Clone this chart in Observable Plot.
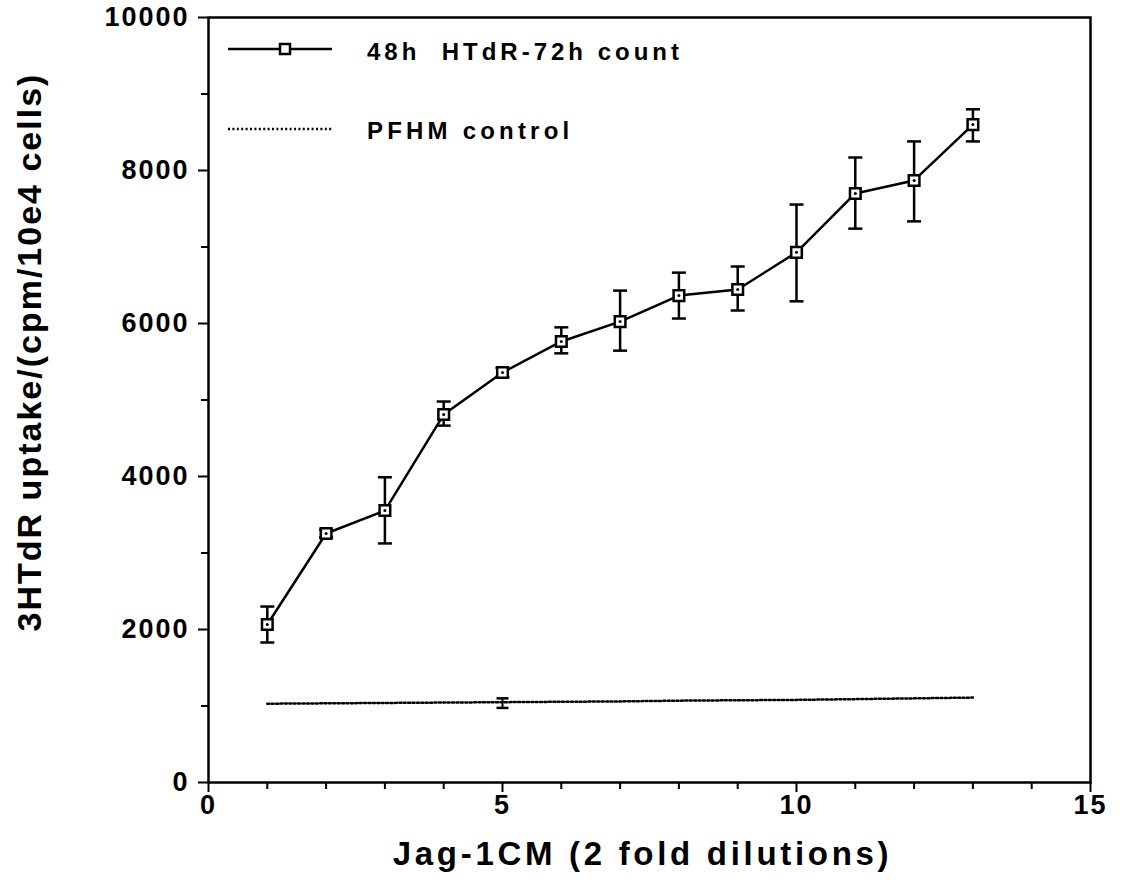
<!DOCTYPE html>
<html>
<head>
<meta charset="utf-8">
<script src="https://cdn.jsdelivr.net/npm/d3@7"></script>
<script src="https://cdn.jsdelivr.net/npm/@observablehq/plot@0.6"></script>
<style>
  html, body { margin: 0; padding: 0; background: #fff; }
  #chart svg { display: block; }
</style>
</head>
<body>
<div id="chart"></div>
<script>
// Data
const dilutions = [1, 2, 3, 4, 5, 6, 7, 8, 9, 10, 11, 12, 13];
const uptake48h = [2065, 3255, 3555, 4810, 5360, 5765, 6025, 6365, 6445, 6930, 7700, 7870, 8600];
const errLow48h = [1830, 3205, 3125, 4665, 5300, 5610, 5645, 6065, 6170, 6290, 7240, 7335, 8380];
const errHigh48h = [2300, 3305, 3990, 4980, 5420, 5950, 6430, 6665, 6745, 7555, 8170, 8380, 8800];
const controlX = [1, 2, 3, 4, 5, 6, 7, 8, 9, 10, 11, 12, 13];
const controlY = [1030, 1035, 1040, 1045, 1050, 1055, 1060, 1070, 1075, 1080, 1090, 1100, 1110];
const controlErrX = [5];
const controlErrLow = [975];
const controlErrHigh = [1100];
const xMajorTicks = [0, 5, 10, 15];
const xMinorTicks = [1, 2, 3, 4, 6, 7, 8, 9, 11, 12, 13, 14];
const yMajorTicks = [0, 2000, 4000, 6000, 8000, 10000];
const yMinorTicks = [1000, 3000, 5000, 7000, 9000];
const seriesLabels = ["48h  HTdR-72h count", "PFHM control"];
const xTitle = "Jag-1CM (2 fold dilutions)";
const yTitle = "3HTdR uptake/(cpm/10e4 cells)";

const main = dilutions.map((x, i) => ({x, y: uptake48h[i], lo: errLow48h[i], hi: errHigh48h[i]}));
const control = controlX.map((x, i) => ({x, y: controlY[i]}));
const controlErr = controlErrX.map((x, i) => ({x, lo: controlErrLow[i], hi: controlErrHigh[i]}));

const capSymbol = {
  draw(context, size) {
    const w = Math.sqrt(size / Math.PI);
    context.moveTo(-w, 0);
    context.lineTo(w, 0);
  }
};

const chart = Plot.plot({
  width: 1121,
  height: 896,
  marginLeft: 208,
  marginRight: 31,
  marginTop: 17,
  marginBottom: 114,
  style: {fontFamily: "'Liberation Sans', Arial, sans-serif", fontWeight: "bold", fontSize: "27px", letterSpacing: "2px", color: "#000", background: "#fff"},
  x: {domain: [0, 15]},
  y: {domain: [0, 10000]},
  marks: [
    Plot.frame({stroke: "#000", strokeWidth: 2.5}),
    Plot.axisX({ticks: xMajorTicks, tickSize: 10, tickPadding: 2, strokeWidth: 2, label: null, fontSize: 27, tickFormat: d3.format("d")}),
    Plot.axisX({ticks: xMinorTicks, tickSize: 7, tickFormat: () => "", strokeWidth: 2, label: null}),
    Plot.axisY({ticks: yMajorTicks, tickSize: 10, tickPadding: 9, strokeWidth: 2, label: null, fontSize: 27, tickFormat: d3.format("d")}),
    Plot.axisY({ticks: yMinorTicks, tickSize: 7, tickFormat: () => "", strokeWidth: 2, label: null}),
    Plot.text([xTitle], {frameAnchor: "bottom", textAnchor: "middle", dx: -7, dy: 82, fontSize: 33, text: d => d}),
    Plot.text([yTitle], {frameAnchor: "left", textAnchor: "middle", dx: -178, dy: -48, rotate: -90, fontSize: 34, text: d => d}),
    // control series
    Plot.line(control, {x: "x", y: "y", stroke: "#000", strokeWidth: 2.5, strokeDasharray: "2,2.4"}),
    Plot.ruleX(controlErr, {x: "x", y1: "lo", y2: "hi", stroke: "#000", strokeWidth: 2}),
    Plot.dot(controlErr, {x: "x", y: "lo", symbol: capSymbol, r: 6, stroke: "#000", strokeWidth: 2.5}),
    Plot.dot(controlErr, {x: "x", y: "hi", symbol: capSymbol, r: 6, stroke: "#000", strokeWidth: 2.5}),
    // main series
    Plot.ruleX(main, {x: "x", y1: "lo", y2: "hi", stroke: "#000", strokeWidth: 2.5}),
    Plot.dot(main, {x: "x", y: "lo", symbol: capSymbol, r: 7, stroke: "#000", strokeWidth: 2.5}),
    Plot.dot(main, {x: "x", y: "hi", symbol: capSymbol, r: 7, stroke: "#000", strokeWidth: 2.5}),
    Plot.line(main, {x: "x", y: "y", stroke: "#000", strokeWidth: 2.5}),
    Plot.dot(main, {x: "x", y: "y", symbol: "square", r: 6, fill: "#fff", stroke: "#000", strokeWidth: 2.5}),
    Plot.dot(main, {x: "x", y: "y", r: 1.5, fill: "#000"})
  ]
});

const svg = d3.select(chart);
// widen the x-axis title spacing to match the reference
svg.selectAll("text").filter(function() { return this.textContent === xTitle; })
  .style("letter-spacing", "3.7px");

// Legend inside the plot frame (top-left)
const lg = svg.append("g").attr("aria-label", "legend").attr("text-anchor", "start");
const lx0 = 228, lx1 = 332, ly1 = 49, ly2 = 129, tx = 367;
lg.append("line").attr("x1", lx0).attr("x2", lx1).attr("y1", ly1).attr("y2", ly1)
  .attr("stroke", "#000").attr("stroke-width", 2.5);
lg.append("rect").attr("x", 285 - 5).attr("y", ly1 - 5).attr("width", 10).attr("height", 10)
  .attr("fill", "#fff").attr("stroke", "#000").attr("stroke-width", 2.5);
lg.append("line").attr("x1", lx0).attr("x2", lx1).attr("y1", ly2).attr("y2", ly2)
  .attr("stroke", "#000").attr("stroke-width", 2.5).attr("stroke-dasharray", "2,2.4");
lg.append("text").attr("x", tx).attr("y", ly1 + 3).attr("dy", "0.35em").attr("font-size", 24)
  .style("white-space", "pre").style("letter-spacing", "4px").text(seriesLabels[0]);
lg.append("text").attr("x", tx).attr("y", ly2 + 2).attr("dy", "0.35em").attr("font-size", 24)
  .style("white-space", "pre").style("letter-spacing", "4.2px").text(seriesLabels[1]);

document.getElementById("chart").appendChild(chart);
</script>
</body>
</html>
